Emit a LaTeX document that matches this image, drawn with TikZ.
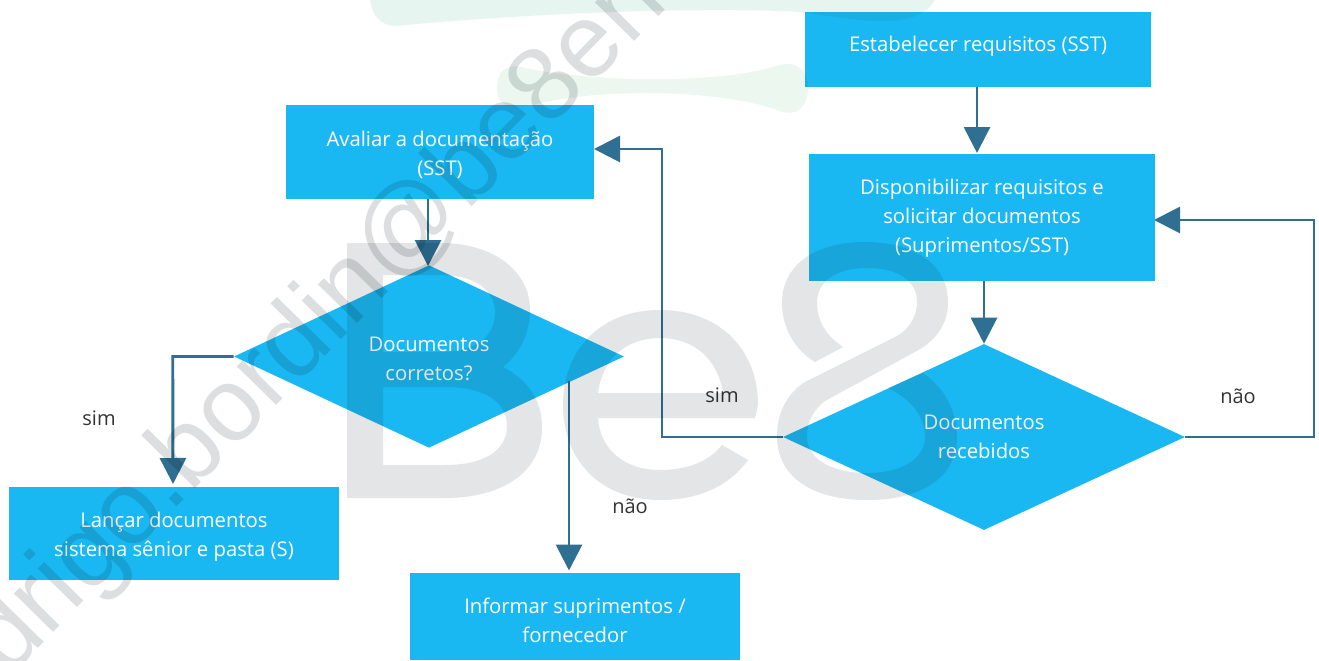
\documentclass[tikz,border=0pt]{standalone}
\usepackage{fontspec}
\setmainfont{Open Sans}
\newfontfamily\wmfont{Liberation Sans}
\usetikzlibrary{shapes.geometric,arrows.meta}
\definecolor{boxblue}{HTML}{1AB8F2}
\definecolor{linkblue}{HTML}{2E6F92}
\definecolor{wmgrey}{HTML}{E3E5E6}
\definecolor{wmtext}{HTML}{DCDEDF}
\definecolor{wmgreena}{HTML}{E6F5EF}
\definecolor{wmgreenb}{HTML}{EBF7EF}
\definecolor{labelgrey}{HTML}{333333}
\tikzset{
  boxbase/.style={fill=boxblue,draw=none,text=white,align=center,inner sep=0pt,font=\fontsize{15.2}{21.75}\selectfont},
  flowbox/.style 2 args={boxbase,rectangle,minimum width=#1*0.75pt,minimum height=#2*0.75pt},
  flowdiamond/.style 2 args={boxbase,diamond,minimum width=#1*0.75pt,minimum height=#2*0.75pt},
  link/.style={draw=linkblue,line width=2.2pt,-{Triangle[length=19.5pt,width=19.5pt]}},
  edgelabel/.style={text=labelgrey,inner sep=0pt,font=\fontsize{15}{17}\selectfont},
  wmfill/.style={fill=wmgrey,draw=none,even odd rule},
}
\newcommand{\topr}[1]{\rule{0pt}{#1pt}}
\newcommand{\botr}[1]{\rule[-#1pt]{0pt}{#1pt}}
\begin{document}
\begin{tikzpicture}[x=0.75pt,y=-0.75pt]
\useasboundingbox (0,0) rectangle (1319,660);
\fill[white] (0,0) rectangle (1319,660);

% boxes
\node[flowbox={346}{75}] (est) at (978,49.5) {\topr{15.5}Estabelecer requisitos (SST)\botr{12}};
\node[flowbox={346}{127}] (disp) at (982,217.5) {\topr{17.5}Disponibilizar requisitos e\\solicitar documentos\\(Suprimentos/SST)\botr{8}};
\node[flowbox={308}{94}] (aval) at (440,152) {\topr{18}Avaliar a documentação\\(SST)\botr{5}};
\node[flowdiamond={390}{177}] (dcor) at (429,356.5) {\topr{19.5}Documentos\\corretos?\botr{5}};
\node[flowdiamond={402}{186}] (drec) at (984,437) {\topr{17.25}Documentos\\recebidos\botr{7}};
\node[flowbox={330}{93}] (lanc) at (174,533.5) {\topr{17.5}Lançar documentos\\sistema sênior e pasta (S)\botr{5}};
\node[flowbox={330}{87}] (info) at (575,616.5) {\topr{22}Informar suprimentos /\\fornecedor\botr{5}};

% free ends of connectors that leave a side off-centre
\coordinate (estout) at (977,87);
\coordinate (dispin) at (977,153);
\coordinate (dispout) at (984,281);
\coordinate (avalout) at (428,199);
\coordinate (dcorin) at (428,266);
\coordinate (dcorno) at (569,381);
\coordinate (infoin) at (569,570.5);
\coordinate (lancin) at (173,484);
\coordinate (avalin) at (594,149);
\coordinate (dispside) at (1154,220);

\draw[link] (estout) -- (dispin);
\draw[link] (dispout) -- (drec.north);
\draw[link] (avalout) -- (dcorin);
\draw[link] (dcor.west) -- ++(-61,0) -- (lancin);
\draw[link] (dcorno) -- (infoin);
\draw[link] (drec.west) -- (662,437) -- (662,149) -- (avalin);
\draw[link] (drec.east) -- (1314,437) -- (1314,220) -- (dispside);

\node[edgelabel] (simesq) at (99,418) {sim};
\node[edgelabel] (simdir) at (722,395) {sim};
\node[edgelabel] (naoesq) at (630,506) {não};
\node[edgelabel] (naodir) at (1238,396) {não};

% watermark, multiplied over everything
\begin{scope}[blend mode=multiply]
  \clip (0,0) rectangle (1319,660);
  % green brush strokes
  \fill[wmgreena] (370,0) .. controls (372,15) and (380,25) .. (395,26)
     .. controls (520,14) and (700,6) .. (800,12)
     .. controls (860,20) and (915,32) .. (935,0) -- cycle;
  \fill[wmgreenb] (497,90) .. controls (497,72) and (505,62) .. (525,68)
     .. controls (590,82) and (720,85) .. (780,65)
     .. controls (800,60) and (810,75) .. (808,92)
     .. controls (805,110) and (795,116) .. (780,111)
     .. controls (730,92) and (620,86) .. (540,103)
     .. controls (515,110) and (497,108) .. (497,90) -- cycle;
  % B
  \path[wmfill] (347,243) -- (440,243) .. controls (495,243) and (530,272) .. (530,310)
     .. controls (530,335) and (518,355) .. (503,367)
     .. controls (528,380) and (542,400) .. (542,428)
     .. controls (542,470) and (505,498) .. (445,498) -- (347,498) -- cycle
     (383,275) -- (440,275) .. controls (475,275) and (495,290) .. (495,313)
     .. controls (495,337) and (475,352) .. (440,352) -- (383,352) -- cycle
     (383,387) -- (445,387) .. controls (485,387) and (507,402) .. (507,426)
     .. controls (507,450) and (485,465) .. (445,465) -- (383,465) -- cycle;
  % e
  \path[wmfill] (755,418) -- (598,418) .. controls (600,450) and (625,470) .. (660,470)
     .. controls (690,470) and (710,460) .. (722,445) -- (748,460)
     .. controls (730,485) and (700,500) .. (660,500)
     .. controls (600,500) and (563,460) .. (563,405)
     .. controls (563,350) and (600,310) .. (660,310)
     .. controls (720,310) and (758,350) .. (758,405) -- cycle
     (598,393) -- (723,393) .. controls (718,360) and (695,338) .. (660,338)
     .. controls (625,338) and (602,360) .. (598,393) -- cycle;
  % 8
  \path[wmfill] (815,362) -- (843,347) .. controls (825,335) and (817,320) .. (817,303)
     .. controls (817,282) and (835,268) .. (867,268)
     .. controls (900,268) and (917,282) .. (917,302)
     .. controls (917,318) and (908,331) .. (893,338)
     -- (805,382) .. controls (785,395) and (777,415) .. (777,437)
     .. controls (777,475) and (810,500) .. (867,500)
     .. controls (925,500) and (957,475) .. (957,437)
     .. controls (957,412) and (945,388) .. (923,373)
     -- (888,388) .. controls (912,400) and (925,417) .. (925,437)
     .. controls (925,458) and (903,473) .. (867,473)
     .. controls (830,473) and (807,458) .. (807,437)
     .. controls (807,422) and (813,410) .. (825,401)
     -- (913,353) .. controls (935,342) and (948,325) .. (948,302)
     .. controls (948,265) and (915,242) .. (865,242)
     .. controls (815,242) and (782,265) .. (782,303)
     .. controls (782,328) and (795,350) .. (815,362) -- cycle;
  % address
  \node[text=wmtext,rotate=45.5,inner sep=0pt,font=\wmfont\fontsize{78}{78}\selectfont,anchor=base west] (wmaddr) at (8,679) {drigo.bordin@be8ene};
\end{scope}
\end{tikzpicture}
\end{document}
